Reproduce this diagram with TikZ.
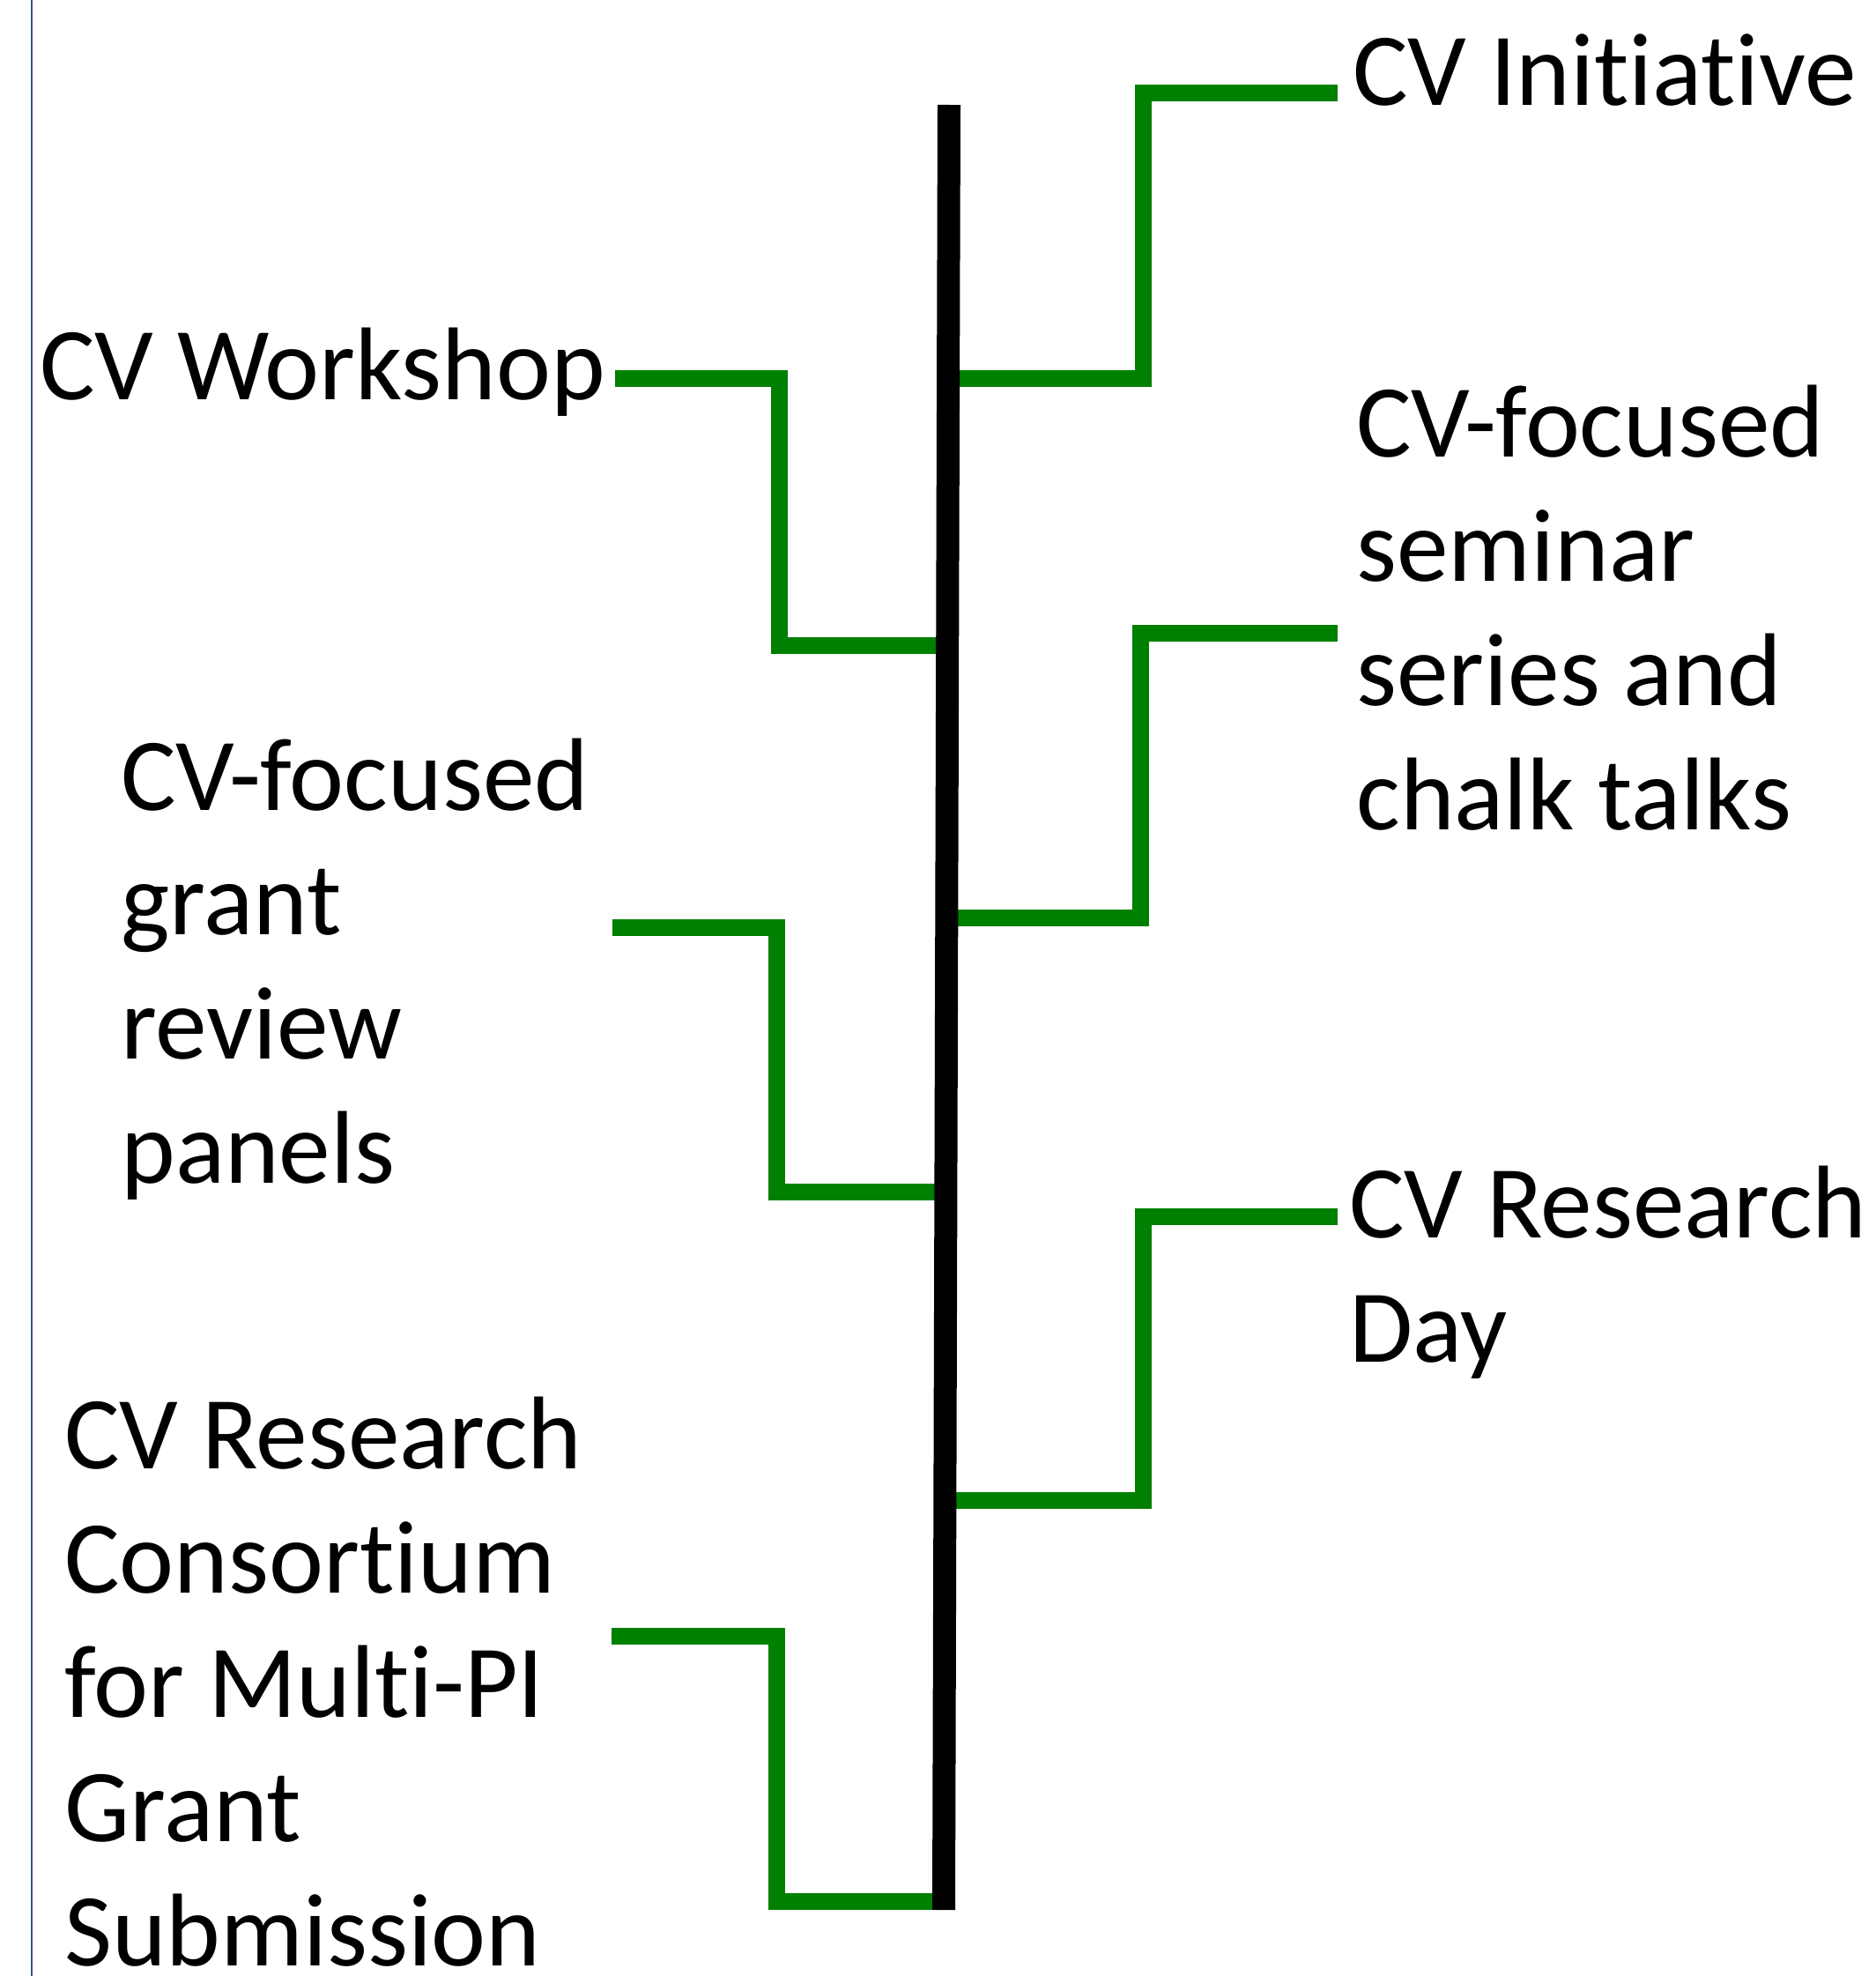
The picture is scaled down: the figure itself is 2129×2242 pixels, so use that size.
\documentclass[tikz,border=0pt]{standalone}
\usepackage{fontspec}
\setmainfont{Carlito}[Ligatures={NoCommon}]
\definecolor{cvgreen}{RGB}{0,128,0}
\definecolor{edgeblue}{RGB}{56,87,140}
\begin{document}
\begin{tikzpicture}[x=0.5pt,y=-0.5pt,
  lbl/.style={anchor=base west, inner sep=0pt, font=\fontsize{58.7}{70.5}\selectfont},
  spine/.style={line width=13pt, draw=black, line cap=butt},
  branch/.style={line width=9.5pt, draw=cvgreen, line cap=butt, line join=miter},
  edge/.style={line width=1pt, draw=edgeblue}]
\useasboundingbox (0,0) rectangle (2129,2242);
\fill[white] (0,0) rectangle (2129,2242);
\renewcommand{\arraystretch}{1}
% left page edge line
\coordinate (eTop) at (36,0);
\coordinate (eBot) at (36,2242);
\draw[edge] (eTop) -- (eBot);
% spine
\coordinate (sTop) at (1077,119);
\coordinate (sBot) at (1071,2167);
% junctions on spine
\coordinate (j1) at (1076.1,429);
\coordinate (j2) at (1075.2,732);
\coordinate (j3) at (1074.3,1041);
\coordinate (j4) at (1073.4,1352);
\coordinate (j5) at (1072.4,1702);
\coordinate (j6) at (1071.0,2157);
% free ends of branches
\coordinate (r1e) at (1518,106);
\coordinate (r2e) at (1518,718);
\coordinate (r3e) at (1518,1380);
\coordinate (l1e) at (698,429);
\coordinate (l2e) at (695,1052);
\coordinate (l3e) at (694,1856);
% labels
\node[lbl] (t1) at (1535,120) {CV Initiative};
\node[lbl] (t2) at (45,453) {CV Workshop};
\node[lbl] (t3) at (1539,518) {\begin{tabular}[t]{@{}l@{}}CV-focused\\seminar\\series and\\chalk talks\end{tabular}};
\node[lbl] (t4) at (137,919) {\begin{tabular}[t]{@{}l@{}}CV-focused\\grant\\review\\panels\end{tabular}};
\node[lbl] (t5) at (1531,1404) {\begin{tabular}[t]{@{}l@{}}CV Research\\Day\end{tabular}};
\node[lbl] (t6) at (73,1666) {\begin{tabular}[t]{@{}l@{}}CV Research\\Consortium\\for Multi-PI\\Grant\\Submission\end{tabular}};
% branches
\draw[branch] (j1) -- ++(221,0) |- (r1e);
\draw[branch] (l1e) -- ++(186,0) |- (j2);
\draw[branch] (j3) -- ++(220,0) |- (r2e);
\draw[branch] (l2e) -- ++(186,0) |- (j4);
\draw[branch] (j5) -- ++(225,0) |- (r3e);
\draw[branch] (l3e) -- ++(187,0) |- (j6);
% spine on top
\draw[spine] (sTop) -- (sBot);
\end{tikzpicture}
\end{document}
